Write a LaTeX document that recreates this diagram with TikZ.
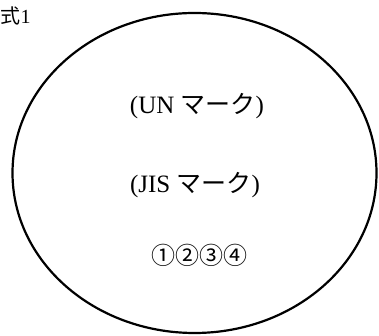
\documentclass[tikz,border=0pt]{standalone}
\usepackage{fontspec}
\setmainfont{Liberation Serif}
\newfontfamily\cjk{Noto Sans CJK JP}
\tikzset{
  lbl/.style={inner sep=0pt, font=\fontsize{25}{28}\selectfont},
  seal/.style={draw, line width=2.2pt}
}
\begin{document}
\begin{tikzpicture}[x=1pt,y=1pt]
\useasboundingbox (0,0) rectangle (379,336);
\draw[seal] (194.5,163) ellipse [x radius=182, y radius=160];
\node[lbl, anchor=west, font=\fontsize{20}{24}\selectfont] (title) at (0.5,320) {{\cjk 式}1};
\node[lbl] (un) at (197,230) {({UN} {\cjk マーク})};
\node[lbl] (jis) at (195,151) {({JIS} {\cjk マーク})};
\node[lbl, font=\fontsize{24}{28}\selectfont] (nums) at (199,81) {{\cjk ①②③④}};
\end{tikzpicture}
\end{document}
